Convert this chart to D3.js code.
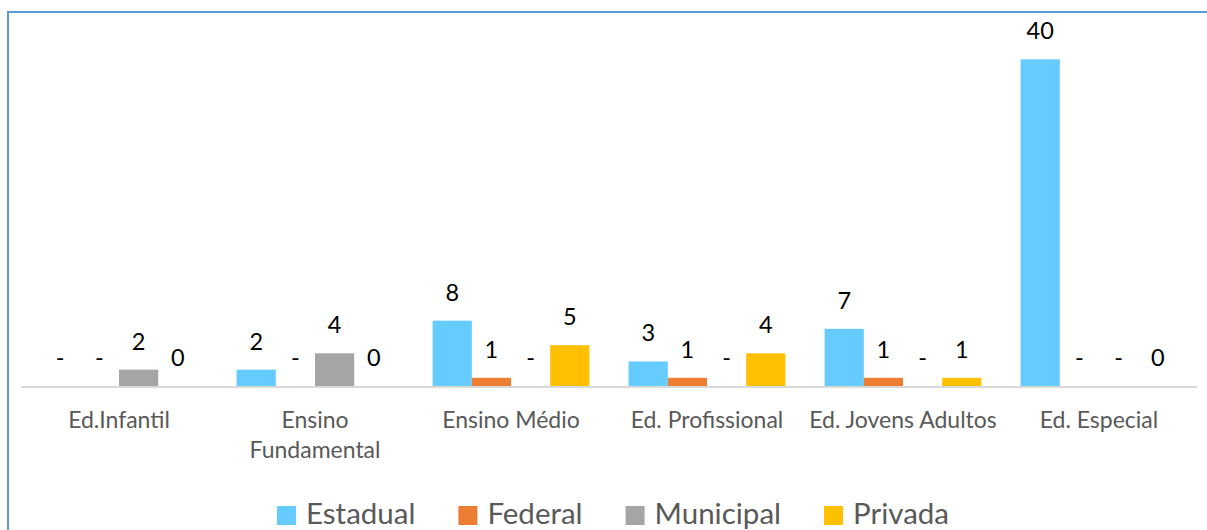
<!DOCTYPE html>
<html>
<head>
<meta charset="utf-8">
<script src="https://cdn.jsdelivr.net/npm/d3@7"></script>
<style>
  html, body { margin: 0; padding: 0; background: #fff; }
  svg { display: block; }
</style>
</head>
<body>
<svg id="chart" width="1207" height="530"></svg>
<script>
// ---- data ----
const categories = ["Ed.Infantil", "Ensino Fundamental", "Ensino Médio", "Ed. Profissional", "Ed. Jovens Adultos", "Ed. Especial"];
const seriesNames = ["Estadual", "Federal", "Municipal", "Privada"];
// null = shown as "-" (zero), 0 = shown as "0"
const estadual  = [null, 2, 8, 3, 7, 40];
const federal   = [null, null, 1, 1, 1, null];
const municipal = [2, 4, null, null, null, null];
const privada   = [0, 0, 5, 4, 1, 0];
const seriesColors = ["#66CCFF", "#ED7D31", "#A5A5A5", "#FFC000"];
const yDomain = [0, 40];

const seriesValues = [estadual, federal, municipal, privada];

const svg = d3.select("#chart");
const FONT = "Lato, 'Open Sans', sans-serif";

// frame border (left + top)
svg.append("path")
  .attr("d", "M8,530 L8,12 L1207,12")
  .attr("fill", "none")
  .attr("stroke", "#5B9BD5")
  .attr("stroke-width", 2);

const x0 = d3.scaleBand().domain(categories).range([21, 1197]).paddingInner(0.2).paddingOuter(0.1);
const x1 = d3.scaleBand().domain(seriesNames).range([0, x0.bandwidth()]);
const y = d3.scaleLinear().domain(yDomain).range([386, 59.3]);

const data = [];
categories.forEach((c, i) => {
  seriesNames.forEach((s, j) => {
    data.push({ cat: c, series: s, raw: seriesValues[j][i], value: seriesValues[j][i] || 0, color: seriesColors[j] });
  });
});

// bars
svg.append("g").selectAll("rect").data(data.filter(d => d.value > 0)).join("rect")
  .attr("x", d => x0(d.cat) + x1(d.series))
  .attr("y", d => y(d.value))
  .attr("width", x1.bandwidth())
  .attr("height", d => y(0) - y(d.value))
  .attr("fill", d => d.color);

// baseline
svg.append("line")
  .attr("x1", 21).attr("x2", 1197)
  .attr("y1", 387).attr("y2", 387)
  .attr("stroke", "#D9D9D9").attr("stroke-width", 2);

// value labels
svg.append("g").selectAll("text").data(data).join("text")
  .attr("x", d => x0(d.cat) + x1(d.series) + x1.bandwidth() / 2)
  .attr("y", d => y(d.value) - 20)
  .attr("text-anchor", "middle")
  .attr("font-family", FONT)
  .attr("font-size", 23.5)
  .attr("fill", "#000")
  .text(d => d.raw === null ? "-" : d3.format("d")(d.raw));

// category axis
const axis = d3.axisBottom(x0).tickSize(0).tickPadding(0);
const gAxis = svg.append("g").attr("transform", "translate(0,428)").call(axis);
gAxis.select(".domain").remove();
gAxis.selectAll("text")
  .attr("font-family", FONT)
  .attr("font-size", 23)
  .attr("fill", "#595959")
  .attr("dy", 0)
  .attr("y", 0)
  .each(function(d) {
    const t = d3.select(this);
    const words = d.split(" ");
    t.text(null);
    let line = [];
    let tspan = t.append("tspan").attr("x", 0).attr("dy", 0);
    const maxW = x0.step();
    words.forEach(w => {
      line.push(w);
      tspan.text(line.join(" "));
      if (tspan.node().getComputedTextLength() > maxW && line.length > 1) {
        line.pop();
        tspan.text(line.join(" "));
        line = [w];
        tspan = t.append("tspan").attr("x", 0).attr("dy", 30).text(w);
      }
    });
  });

// legend
const legend = svg.append("g");
const items = legend.selectAll("g").data(seriesNames).join("g");
items.append("rect")
  .attr("width", 19).attr("height", 19)
  .attr("y", 506)
  .attr("fill", (d, i) => seriesColors[i]);
items.append("text")
  .attr("x", 29)
  .attr("y", 524)
  .attr("font-family", FONT)
  .attr("font-size", 29.5)
  .attr("fill", "#595959")
  .text(d => d);
let widths = [];
items.each(function() {
  widths.push(29 + d3.select(this).select("text").node().getComputedTextLength());
});
const gap = 43;
const total = d3.sum(widths) + gap * (widths.length - 1);
let cx = 613 - total / 2;
items.each(function(d, i) {
  d3.select(this).attr("transform", `translate(${cx},0)`);
  cx += widths[i] + gap;
});
</script>
</body>
</html>
